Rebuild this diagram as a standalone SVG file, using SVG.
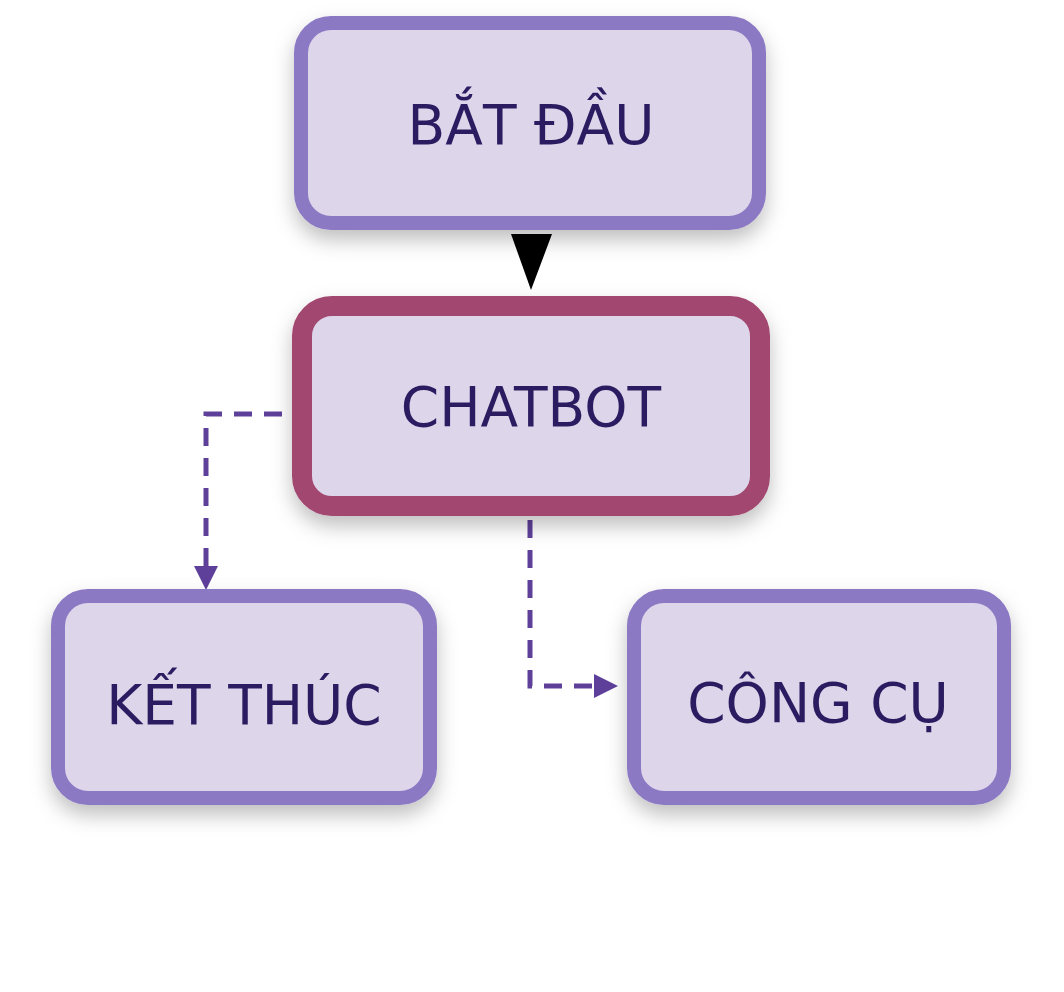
<svg xmlns="http://www.w3.org/2000/svg" width="1064" height="992" viewBox="0 0 1064 992">
<style>
.n{fill:#ddd5ea;stroke:#8c79c3;stroke-width:14;filter:url(#sh)}
.c{fill:#ddd5ea;stroke:#a2466f;stroke-width:20;filter:url(#sh)}
.t{font-family:"DejaVu Sans","Noto Sans",sans-serif;font-size:55px;fill:#2b1b60;text-anchor:middle;dominant-baseline:central}
.d{fill:none;stroke:#5e409b;stroke-width:5;stroke-dasharray:18 12}
</style>
<defs>
<filter id="sh" x="-20%" y="-20%" width="140%" height="150%"><feDropShadow dx="0" dy="10" stdDeviation="10" flood-color="#000" flood-opacity="0.25"/></filter>
</defs>
<rect width="1064" height="992" fill="#fff"/>
<g id="connectors">
<polygon points="511,234 552,234 531,290" fill="#000"/>
<path class="d" d="M282,414H206V568"/>
<polygon points="194,566 218,566 206,590" fill="#5e409b"/>
<path class="d" d="M530,520V686H596"/>
<polygon points="594,674 618,686 594,698" fill="#5e409b"/>
</g>
<g id="start"><rect class="n" x="301" y="23" width="458" height="200" rx="30"/><text class="t" x="531" y="125">BẮT ĐẦU</text></g>
<g id="chatbot"><rect class="c" x="302" y="306" width="458" height="200" rx="30"/><text class="t" x="531" y="407">CHATBOT</text></g>
<g id="end"><rect class="n" x="58" y="596" width="372" height="202" rx="30"/><text class="t" x="244" y="705">KẾT THÚC</text></g>
<g id="tools"><rect class="n" x="634" y="596" width="370" height="202" rx="30"/><text class="t" x="818" y="703">CÔNG CỤ</text></g>
</svg>
